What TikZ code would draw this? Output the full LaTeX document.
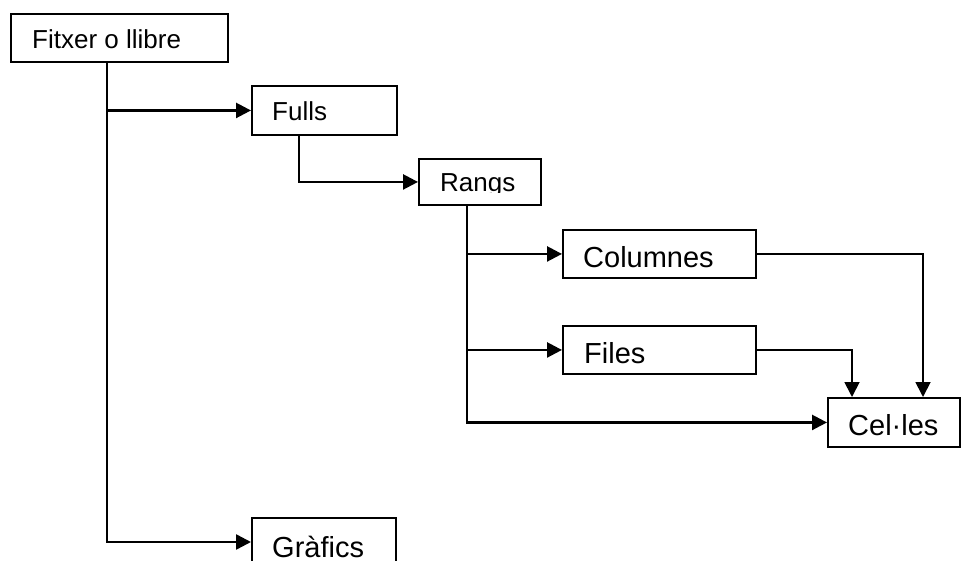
\documentclass[tikz,border=0pt]{standalone}
\usepackage{fontspec}
\setmainfont{Liberation Sans}
\usetikzlibrary{arrows.meta}
\begin{document}
\begin{tikzpicture}[x=1pt,y=-1pt,
  box/.style={draw,line width=1.9pt,inner sep=0pt,anchor=north west},
  lbl/.style={inner sep=0pt,anchor=base west},
  tip/.style={-{Triangle[length=15pt,width=15pt]}},
  thk/.style={line width=2.5pt,tip},
  thn/.style={line width=1.8pt,tip}]
\useasboundingbox (0,0) rectangle (961,561);
\clip (0,0) rectangle (961,561);
% boxes
\node[box,minimum width=217pt,minimum height=48pt] (fitxer) at (10,13) {};
\node[box,minimum width=145pt,minimum height=49pt] (fulls) at (251,85) {};
\node[box,minimum width=122pt,minimum height=46pt] (rangs) at (418,158) {};
\node[box,minimum width=193pt,minimum height=48pt] (columnes) at (562,229) {};
\node[box,minimum width=193pt,minimum height=48pt] (files) at (562,325) {};
\node[box,minimum width=132pt,minimum height=49pt] (celles) at (827,397) {};
\node[box,minimum width=144pt,minimum height=70pt] (grafics) at (251,517) {};
% labels
\node[lbl,font=\fontsize{26}{31}\selectfont] (tfitxer) at (32,49) {Fitxer o llibre};
\node[lbl,font=\fontsize{26}{31}\selectfont] (tfulls) at (272,121) {Fulls};
\begin{scope}
\clip (418,158) rectangle (540,193);
\node[lbl,font=\fontsize{26}{31}\selectfont] (trangs) at (440,192) {Rangs};
\end{scope}
\node[lbl,font=\fontsize{29}{34}\selectfont] (tcolumnes) at (583,268) {Columnes};
\node[lbl,font=\fontsize{29}{34}\selectfont] (tfiles) at (584,363) {Files};
\node[lbl,font=\fontsize{29}{34}\selectfont] (tcelles) at (848,435) {Cel·les};
\node[lbl,font=\fontsize{29}{34}\selectfont] (tgrafics) at (272,557) {Gràfics};
% trunk coordinates
\coordinate (t1) at (107,0);
\coordinate (t2) at (299,0);
\coordinate (t3) at (467,0);
\coordinate (t4) at (852,0);
\coordinate (t5) at (923,0);
% connectors
\draw[thk] (fitxer.south -| t1) |- (grafics.west |- 0,542);
\draw[thk] (t1 |- fulls.west) -- (fulls.west);
\draw[thk] (fulls.south -| t2) |- (rangs.west);
\draw[thk] (rangs.south -| t3) |- (celles.west);
\draw[thk] (t3 |- columnes.west) -- (columnes.west);
\draw[thk] (t3 |- files.west) -- (files.west);
\draw[thn] (columnes.east) -| (celles.north -| t5);
\draw[thn] (files.east) -| (celles.north -| t4);
\end{tikzpicture}
\end{document}
